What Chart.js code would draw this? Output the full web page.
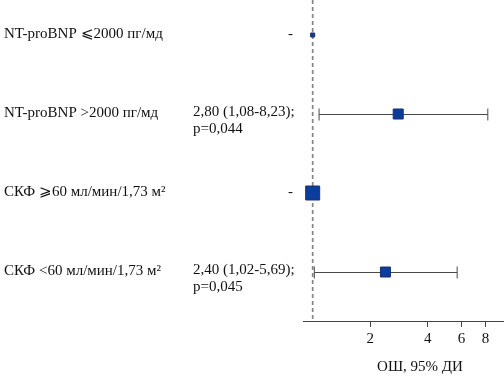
<!DOCTYPE html>
<html>
<head>
<meta charset="utf-8">
<script src="https://cdn.jsdelivr.net/npm/chart.js@4.4.0/dist/chart.umd.min.js"></script>
<style>
  html, body { margin: 0; padding: 0; background: #fff; }
  #wrap { width: 504px; height: 376px; }
</style>
</head>
<body>
<div id="wrap"><canvas id="myChart"></canvas></div>
<script>
// Data

const rowLabels = [
    'NT-proBNP \u2A7D2000 пг/мд',
    'NT-proBNP >2000 пг/мд',
    'СКФ \u2A7E60 мл/мин/1,73 м²',
    'СКФ <60 мл/мин/1,73 м²'
];
const oddsRatio = [1, 2.80, 1, 2.40];
const ciLow = [null, 1.08, null, 1.02];
const ciHigh = [null, 8.23, null, 5.69];
const resultText = [
    ['-'],
    ['2,80 (1,08-8,23);', 'p=0,044'],
    ['-'],
    ['2,40 (1,02-5,69);', 'p=0,045']
];
const xTicks = [2, 4, 6, 8];
const axisTitle = 'ОШ, 95% ДИ';

// marker side in px (style only)
const boxSide = [4, 10, 14, 10];

const serif = '"Liberation Serif", "DejaVu Serif", serif';

// Plugin: reference line, whiskers and left side text

const forestPlugin = {
    id: 'forest',
    beforeDatasetsDraw(chart){
        const ctx = chart.ctx;
        const xs = chart.scales.x;
        const ys = chart.scales.y;
        const area = chart.chartArea;

        // dashed line at OR = 1
        const x1 = xs.getPixelForValue(1);
        ctx.save();
        ctx.strokeStyle = '#858585';
        ctx.lineWidth = 1.7;
        ctx.setLineDash([4, 3]);
        ctx.beginPath();
        ctx.moveTo(x1, 0);
        ctx.lineTo(x1, area.bottom);
        ctx.stroke();
        ctx.restore();

        // whiskers
        ctx.save();
        ctx.strokeStyle = '#4a4a4a';
        ctx.lineWidth = 1;
        oddsRatio.forEach((v, i)=>{
            if (ciLow[i] == null) return;
            const y = Math.round(ys.getPixelForValue(i + 1)) + 0.5;
            const a = xs.getPixelForValue(ciLow[i]);
            const b = xs.getPixelForValue(ciHigh[i]);
            ctx.beginPath();
            ctx.moveTo(a, y);
            ctx.lineTo(b, y);
            ctx.moveTo(a, y - 6);
            ctx.lineTo(a, y + 6);
            ctx.moveTo(b, y - 6);
            ctx.lineTo(b, y + 6);
            ctx.stroke();
        });
        ctx.restore();
    },
    afterDraw(chart){
        const ctx = chart.ctx;
        const ys = chart.scales.y;
        ctx.save();
        ctx.fillStyle = '#111';
        ctx.font = '15px ' + serif;
        ctx.textBaseline = 'middle';
        ctx.textAlign = 'left';
        rowLabels.forEach((label, i)=>{
            const y = ys.getPixelForValue(i + 1);
            ctx.fillText(label, 4, y - 1);
            const txt = resultText[i];
            if (txt.length == 1) {
                ctx.fillText(txt[0], 288, y - 1);
            } else {
                ctx.fillText(txt[0], 193, y - 2);
                ctx.fillText(txt[1], 193, y + 15);
            }
        });
        // axis title
        ctx.textAlign = 'center';
        ctx.fillText(axisTitle, 420, 367);
        ctx.restore();
    }
};

// Chart.js Setting

const ctx = document.getElementById('myChart');

const points = oddsRatio.map((v, i)=>({ x: v, y: i + 1 }));

const myChart = new Chart(ctx, {
    type: 'scatter',
    data: {
        datasets: [{
            label: 'ОШ',
            data: points,
            pointStyle: 'rect',
            pointRadius: boxSide.map(s => s / Math.SQRT2),
            pointHoverRadius: boxSide.map(s => s / Math.SQRT2),
            backgroundColor: '#0b3d9e',
            borderColor: '#1d2f6b',
            borderWidth: 1
        }]
    },
    options: {
        responsive: true,
        maintainAspectRatio: false,
        animation: false,
        events: [],
        layout: {
            autoPadding: false,
            padding: { left: 303, right: 0, top: 0, bottom: 25 }
        },
        plugins: {
            legend: { display: false },
            tooltip: { enabled: false }
        },
        scales: {
            x: {
                type: 'logarithmic',
                bounds: 'data',
                min: 0.89,
                max: 10,
                afterBuildTicks(axis){
                    axis.ticks = xTicks.map(v => ({ value: v }));
                },
                border: { display: true, color: '#444', width: 1 },
                grid: {
                    drawOnChartArea: false,
                    drawTicks: true,
                    tickLength: 6,
                    color: '#444'
                },
                ticks: {
                    autoSkip: false,
                    maxRotation: 0,
                    padding: 3,
                    color: '#111',
                    font: { family: serif, size: 15 },
                    callback: (v)=> String(v)
                }
            },
            y: {
                display: false,
                reverse: true,
                min: 0.557,
                max: 4.62
            }
        }
    },
    plugins: [forestPlugin]
});
</script>
</body>
</html>
